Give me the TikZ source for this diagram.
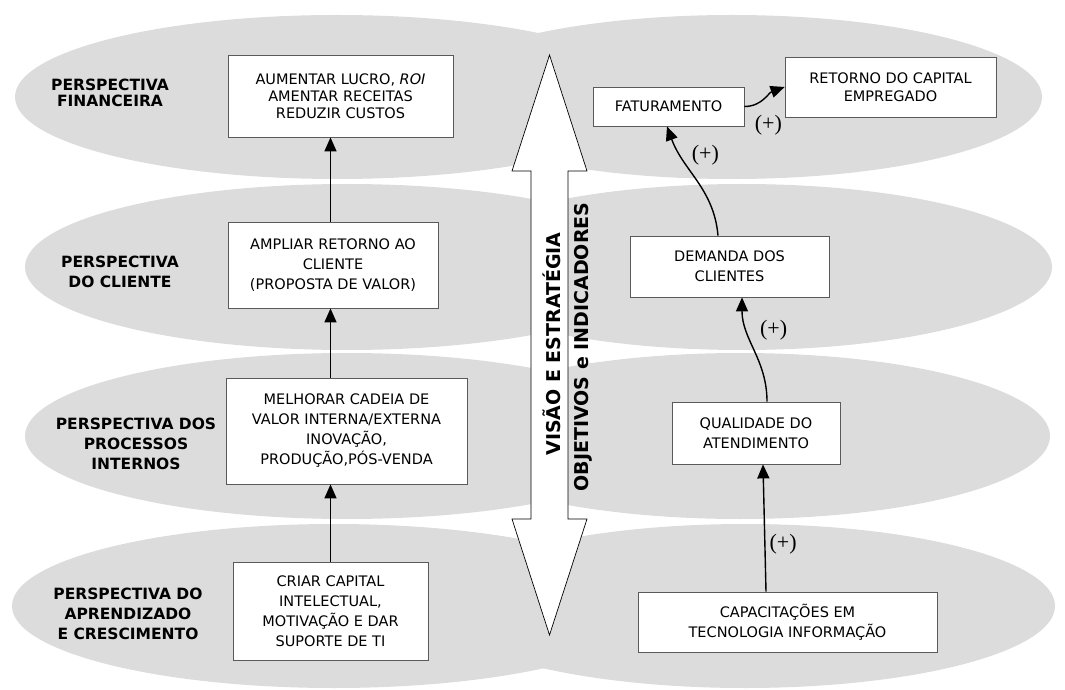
\documentclass[tikz,border=0pt]{standalone}
\usepackage{fontspec}
\setmainfont{DejaVu Sans}
\newfontfamily\plusfont{Liberation Serif}
\usepackage{tikz}
\usetikzlibrary{arrows.meta}

\definecolor{bandgray}{RGB}{220,220,220}
\definecolor{boxline}{RGB}{90,90,90}

\begin{document}
\begin{tikzpicture}[x=1pt,y=1pt,
    band/.style={fill=bandgray},
    box/.style={draw=boxline,fill=white,line width=0.8pt,align=center,inner sep=0pt,font=\fontsize{14.5}{20}\selectfont},
    persp/.style={align=center,font=\fontsize{15.5}{20}\selectfont\bfseries},
    up/.style={-{Triangle[width=12pt,length=14pt]},line width=1.4pt},
    plusnode/.style={font=\plusfont\fontsize{22}{22}\selectfont,inner sep=4pt},
    bigtext/.style={rotate=90,font=\fontsize{19}{19}\selectfont\bfseries}]

    \useasboundingbox (0,0) rectangle (1065,689);

    % faixas cinzas
    \fill[band] (337,592) ellipse [x radius=322,y radius=82];
    \fill[band] (732,592) ellipse [x radius=310,y radius=82];
    \fill[band] (347,422) ellipse [x radius=322,y radius=83];
    \fill[band] (742,422) ellipse [x radius=310,y radius=83];
    \fill[band] (347,253) ellipse [x radius=322,y radius=83];
    \fill[band] (740,253) ellipse [x radius=310,y radius=83];
    \fill[band] (334,83) ellipse [x radius=322,y radius=82];
    \fill[band] (745,83) ellipse [x radius=310,y radius=82];

    % seta dupla
    \draw[fill=white,line width=0.7pt] (549.5,634) -- (587,518) -- (568,518) -- (568,170) -- (587,170)
        -- (549.5,54) -- (512,170) -- (531,170) -- (531,518) -- (512,518) -- cycle;
    \node[bigtext] (visao) at (552,345) {VISÃO E ESTRATÉGIA};
    \node[bigtext] (obj) at (583,342) {OBJETIVOS e INDICADORES};

    % perspectivas
    \node[persp,font=\fontsize{15.5}{16}\selectfont\bfseries] (fin) at (110,596) {PERSPECTIVA\\FINANCEIRA};
    \node[persp] (cli) at (120,417) {PERSPECTIVA\\DO CLIENTE};
    \node[persp] (proc) at (136,245) {PERSPECTIVA DOS\\PROCESSOS\\INTERNOS};
    \node[persp] (apr) at (128,75) {PERSPECTIVA DO\\APRENDIZADO\\E CRESCIMENTO};

    % lado esquerdo
    \node[box,minimum width=225pt,minimum height=82pt,font=\fontsize{14.5}{17}\selectfont] (A) at (340.5,593)
        {AUMENTAR LUCRO, \textit{ROI}\\AMENTAR RECEITAS\\REDUZIR CUSTOS};
    \node[box,minimum width=210pt,minimum height=86pt] (B) at (333,424)
        {AMPLIAR RETORNO AO\\CLIENTE\\(PROPOSTA DE VALOR)};
    \node[box,minimum width=241pt,minimum height=106pt] (C) at (346.5,258)
        {MELHORAR CADEIA DE\\VALOR INTERNA/EXTERNA\\INOVAÇÃO,\\PRODUÇÃO,PÓS-VENDA};
    \node[box,minimum width=195pt,minimum height=98pt] (D) at (330.5,78)
        {CRIAR CAPITAL\\INTELECTUAL,\\MOTIVAÇÃO E DAR\\SUPORTE DE TI};

    % lado direito
    \node[box,minimum width=151pt,minimum height=39pt] (fat) at (668.5,582.5) {FATURAMENTO};
    \node[box,minimum width=211pt,minimum height=60pt,font=\fontsize{14.5}{18}\selectfont] (ret) at (890.5,602)
        {RETORNO DO CAPITAL\\EMPREGADO};
    \node[box,minimum width=199pt,minimum height=61pt] (dem) at (729.5,422.5) {DEMANDA DOS\\CLIENTES};
    \node[box,minimum width=168pt,minimum height=62pt] (qual) at (756,256) {QUALIDADE DO\\ATENDIMENTO};
    \node[box,minimum width=299pt,minimum height=60pt] (cap) at (787.5,67) {CAPACITAÇÕES EM\\TECNOLOGIA INFORMAÇÃO};

    \draw (D.north) edge[up] (D.north |- C.south);
    \draw (C.north -| D.north) edge[up] (B.south -| D.north);
    \draw (B.north -| D.north) edge[up] (A.south -| D.north);

    \draw ([xshift=-21.5pt]cap.north) edge[up] node[plusnode,right,pos=.37] {(+)} ([xshift=7pt]qual.south);
    \draw ([xshift=11pt]qual.north) edge[up,out=90,in=-90] node[plusnode,right,pos=.7,xshift=8pt] {(+)} ([xshift=12.5pt]dem.south);
    \draw ([xshift=-11.5pt]dem.north) edge[up,out=95,in=-70] node[plusnode,right,pos=.75,xshift=6pt] {(+)} ([xshift=-1.5pt]fat.south);
    \draw (fat.east) edge[up,out=0,in=200] node[plusnode,below,pos=.6,yshift=-14pt] {(+)} (ret.west);
\end{tikzpicture}
\end{document}
